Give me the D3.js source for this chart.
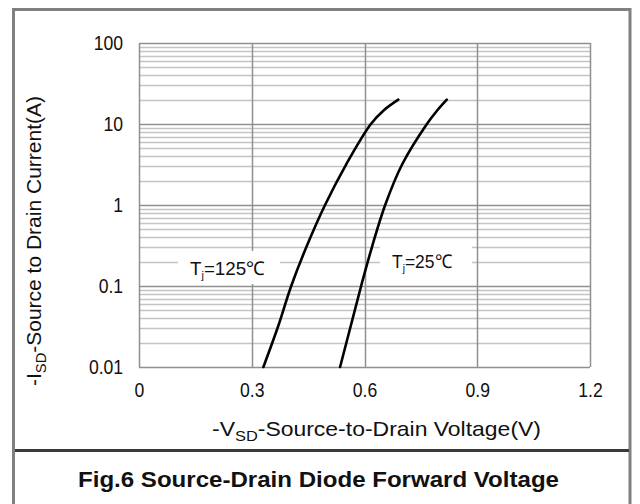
<!DOCTYPE html>
<html lang="en">
<head>
<meta charset="UTF-8">
<title>Fig.6</title>
<script src="https://d3js.org/d3.v7.min.js"></script>
<style>
body {margin: 0; background: white;}
svg {display: block;}
text {font-family: "Liberation Sans", Arial, sans-serif; fill: #111;}
</style>
</head>
<body>
<svg width="640" height="504"></svg>
<script>
// values
const xTicks = [0, 0.3, 0.6, 0.9, 1.2];
const xTickLabels = ["0", "0.3", "0.6", "0.9", "1.2"];
const yTicks = [0.01, 0.1, 1, 10, 100];
const yTickLabels = ["0.01", "0.1", "1", "10", "100"];

const current = [0.01, 0.0316, 0.1, 0.316, 1, 3.16, 10, 15, 20];
const v125 = [0.331, 0.370, 0.405, 0.447, 0.495, 0.551, 0.617, 0.653, 0.690];
const v25 = [0.535, 0.563, 0.591, 0.621, 0.655, 0.700, 0.766, 0.795, 0.819];

const svg = d3.select("svg");

const xs = d3.scaleLinear().domain([0, 1.2]).range([139, 590]);
const ys = d3.scaleLog().domain([0.01, 100]).range([367, 43]);

// outer frame and divider
svg.append("path")
  .attr("d", "M13.5,504 L13.5,9.5 L630,9.5 L630,504")
  .attr("fill", "none").attr("stroke", "#808080").attr("stroke-width", 3);
svg.append("line")
  .attr("x1", 15).attr("x2", 629).attr("y1", 450.5).attr("y2", 450.5)
  .attr("stroke", "#3a3a3a").attr("stroke-width", 3);

// grid
const minor = [];
for (let e = -2; e < 2; e++) {
  for (let k = 2; k <= 9; k++) minor.push(k * Math.pow(10, e));
}
const grid = svg.append("g");
grid.selectAll(".minor").data(minor).enter().append("line")
  .attr("x1", xs(0)).attr("x2", xs(1.2))
  .attr("y1", d => Math.round(ys(d)) + 0.5).attr("y2", d => Math.round(ys(d)) + 0.5)
  .attr("stroke", "#c4c4c4").attr("stroke-width", 1.3);
grid.selectAll(".major").data(yTicks).enter().append("line")
  .attr("x1", xs(0)).attr("x2", xs(1.2))
  .attr("y1", d => Math.round(ys(d)) + 0.5).attr("y2", d => Math.round(ys(d)) + 0.5)
  .attr("stroke", "#909090").attr("stroke-width", 1.5);
grid.selectAll(".vert").data(xTicks).enter().append("line")
  .attr("x1", d => Math.round(xs(d)) + 0.5).attr("x2", d => Math.round(xs(d)) + 0.5)
  .attr("y1", ys(100)).attr("y2", ys(0.01))
  .attr("stroke", "#909090").attr("stroke-width", 1.5);

// axes (labels only)
const yAxis = svg.append("g")
  .attr("transform", "translate(" + xs(0) + ",0)")
  .call(d3.axisLeft(ys).tickValues(yTicks).tickSize(0).tickPadding(18)
    .tickFormat((d, i) => yTickLabels[i]));
const xAxis = svg.append("g")
  .attr("transform", "translate(0," + ys(0.01) + ")")
  .call(d3.axisBottom(xs).tickValues(xTicks).tickSize(0).tickPadding(16)
    .tickFormat((d, i) => xTickLabels[i]));
[yAxis, xAxis].forEach(a => {
  a.select(".domain").remove();
  a.selectAll("text")
    .style("font-family", "'Liberation Sans', Arial, sans-serif")
    .style("font-size", "20px").attr("fill", "#111")
    .attr("transform", "scale(0.88,1)");
});

// label boxes
const boxes = [
  {x0: 178, x1: 280, y0: 251, y1: 284},
  {x0: 380, x1: 472, y0: 241, y1: 276}
];
svg.selectAll(".box").data(boxes).enter().append("rect")
  .attr("x", d => d.x0).attr("y", d => d.y0)
  .attr("width", d => d.x1 - d.x0).attr("height", d => d.y1 - d.y0)
  .attr("fill", "white");

// curves
const line = d3.line()
  .x(d => xs(d[0])).y(d => ys(d[1]))
  .curve(d3.curveCatmullRom.alpha(0.5));
[v125, v25].forEach(vs => {
  svg.append("path")
    .datum(vs.map((v, i) => [v, current[i]]))
    .attr("d", line)
    .attr("fill", "none").attr("stroke", "#000").attr("stroke-width", 2.6)
    .attr("stroke-linecap", "round");
});

// curve labels
function tjLabel(x, y, temp, len) {
  const t = svg.append("text").attr("x", x).attr("y", y)
    .attr("textLength", len).attr("lengthAdjust", "spacingAndGlyphs")
    .style("font-size", "19px");
  t.append("tspan").text("T");
  t.append("tspan").attr("dy", 4).style("font-size", "11px").text("j");
  t.append("tspan").attr("dy", -4).text("=" + temp + "\u2103");
}
tjLabel(190, 275, "125", 75);
tjLabel(392, 268, "25", 60);

// axis titles
const xt = svg.append("text").attr("x", 212).attr("y", 436)
  .attr("textLength", 329).attr("lengthAdjust", "spacingAndGlyphs")
  .style("font-size", "21px");
xt.append("tspan").text("-V");
xt.append("tspan").attr("dy", 5).style("font-size", "15px").text("SD");
xt.append("tspan").attr("dy", -5).text("-Source-to-Drain Voltage(V)");

const yt = svg.append("text")
  .attr("transform", "translate(41,386) rotate(-90)")
  .attr("textLength", 290).attr("lengthAdjust", "spacingAndGlyphs")
  .style("font-size", "20px");
yt.append("tspan").text("-I");
yt.append("tspan").attr("dy", 5).style("font-size", "14px").text("SD");
yt.append("tspan").attr("dy", -5).text("-Source to Drain Current(A)");

// figure title
svg.append("text").attr("x", 78).attr("y", 487)
  .attr("textLength", 481).attr("lengthAdjust", "spacingAndGlyphs")
  .style("font-size", "22px").style("font-weight", "bold")
  .text("Fig.6 Source-Drain Diode Forward Voltage");
</script>
</body>
</html>
